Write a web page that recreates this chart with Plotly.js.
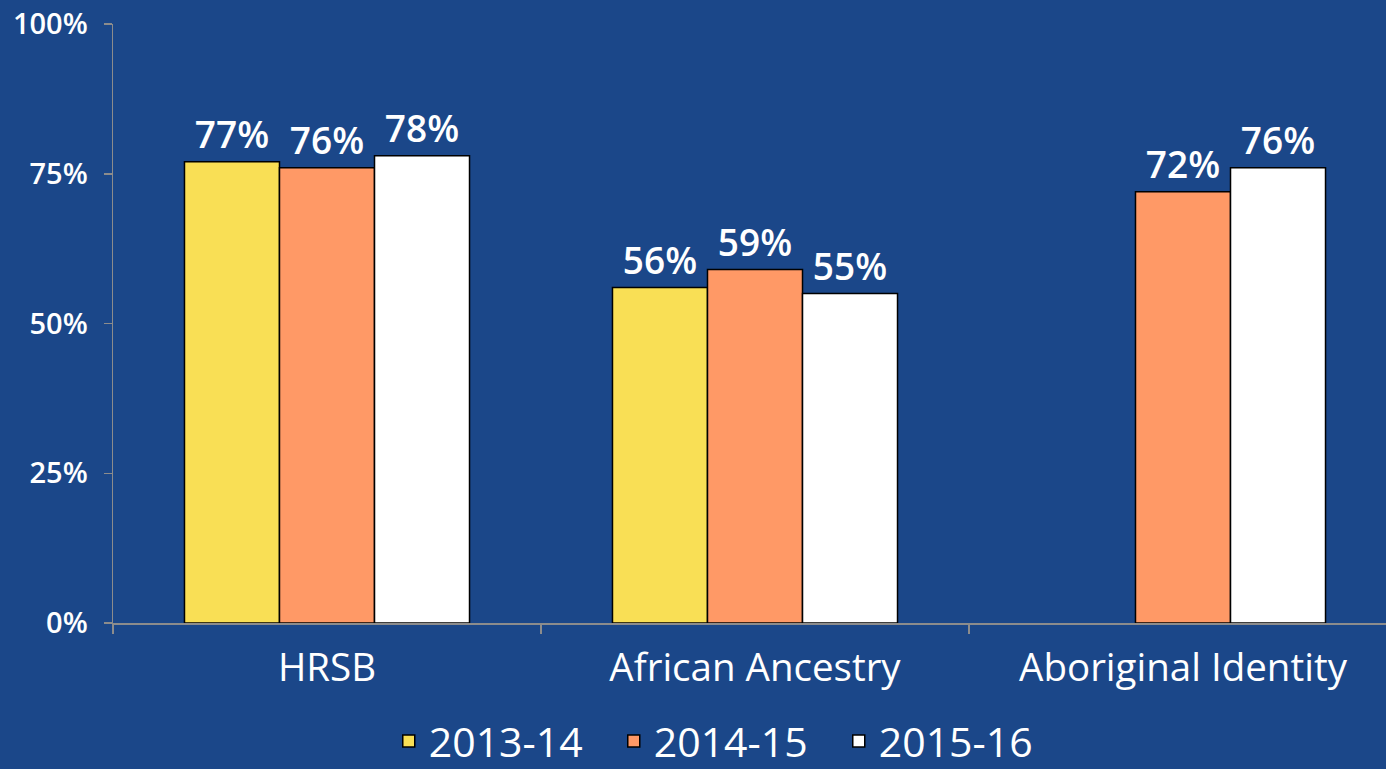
<!DOCTYPE html>
<html>
<head>
<meta charset="utf-8">
<script src="https://cdn.plot.ly/plotly-3.0.1.min.js"></script>
<style>html,body{margin:0;padding:0;background:#1B4789;}#chart{width:1386px;height:769px;}</style>
</head>
<body>
<div id="chart"></div>
<script>
const categories = ["HRSB", "African Ancestry", "Aboriginal Identity"];
const seriesNames = ["2013-14", "2014-15", "2015-16"];
const values2013 = [77, 56, null];
const values2014 = [76, 59, 72];
const values2015 = [78, 55, 76];
const yTickVals = [0, 25, 50, 75, 100];
const yTickText = ["0%", "25%", "50%", "75%", "100%"];

const colors = ["#F9DF55", "#FF9966", "#FFFFFF"];
const allValues = [values2013, values2014, values2015];
const FONT = "Open Sans";

const traces = allValues.map((vals, i) => ({
  type: "bar",
  name: seriesNames[i],
  x: categories,
  y: vals,
  marker: {color: colors[i], line: {color: "#000000", width: 1.5}},
  text: vals.map(v => v == null ? "" : v + "%"),
  textposition: "outside",
  cliponaxis: false,
  textfont: {family: FONT, size: 37, color: "#FFFFFF", weight: 600},
  hoverinfo: "none"
}));

const layout = {
  width: 1386,
  height: 769,
  paper_bgcolor: "#1B4789",
  plot_bgcolor: "#1B4789",
  margin: {l: 113, r: 0, t: 24, b: 146},
  barmode: "group",
  bargap: 0.334,
  bargroupgap: 0,
  showlegend: true,
  legend: {
    orientation: "h",
    xref: "container", yref: "container",
    x: 0.524, y: 0.036, xanchor: "center", yanchor: "middle",
    font: {family: FONT, size: 41, color: "#FFFFFF"},
    itemwidth: 30,
    entrywidth: 180, entrywidthmode: "pixels",
    bgcolor: "rgba(0,0,0,0)"
  },
  xaxis: {
    range: [-0.5, -0.5 + 1273 / 428],
    showline: true, linecolor: "#8C8C8C", linewidth: 1.5,
    ticks: "outside", ticklen: 9, tickcolor: "#8C8C8C", tickwidth: 1.5,
    tickson: "boundaries",
    ticklabelstandoff: 10,
    showgrid: false, zeroline: false,
    tickfont: {family: FONT, size: 38.5, color: "#FFFFFF"},
    fixedrange: true
  },
  yaxis: {
    range: [0, 100],
    tickvals: yTickVals, ticktext: yTickText,
    showline: true, linecolor: "#8C8C8C", linewidth: 1.5,
    ticks: "outside", ticklen: 8, tickcolor: "#8C8C8C", tickwidth: 1.5,
    ticklabelstandoff: 10,
    showgrid: false, zeroline: false,
    tickfont: {family: FONT, size: 29, color: "#FFFFFF", weight: 600},
    fixedrange: true
  }
};

Plotly.newPlot("chart", traces, layout, {displayModeBar: false, staticPlot: true});
</script>
</body>
</html>
